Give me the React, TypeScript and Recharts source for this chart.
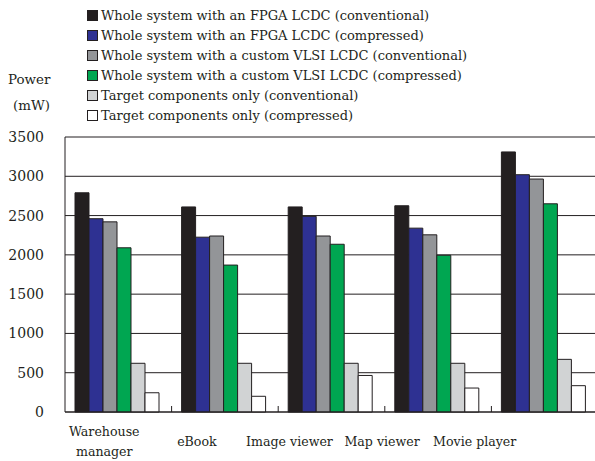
import { Bar, BarChart, CartesianGrid, Legend, XAxis, YAxis } from "recharts";

const categories = ["Warehouse manager", "eBook", "Image viewer", "Map viewer", "Movie player"];
const categoryLines = [["Warehouse", "manager"], ["eBook"], ["Image viewer"], ["Map viewer"], ["Movie player"]];

const fpgaConventional = [2790, 2610, 2610, 2625, 3310];
const fpgaCompressed = [2460, 2225, 2490, 2340, 3020];
const vlsiConventional = [2420, 2240, 2240, 2255, 2965];
const vlsiCompressed = [2090, 1870, 2135, 1995, 2650];
const targetConventional = [620, 620, 620, 620, 670];
const targetCompressed = [245, 200, 465, 305, 335];

const yTicks = [0, 500, 1000, 1500, 2000, 2500, 3000, 3500];

const series = [
  { key: "fpgaConv", name: "Whole system with an FPGA LCDC (conventional)", color: "#231f20", values: fpgaConventional },
  { key: "fpgaComp", name: "Whole system with an FPGA LCDC (compressed)", color: "#2e3192", values: fpgaCompressed },
  { key: "vlsiConv", name: "Whole system with a custom VLSI LCDC (conventional)", color: "#939598", values: vlsiConventional },
  { key: "vlsiComp", name: "Whole system with a custom VLSI LCDC (compressed)", color: "#00a651", values: vlsiCompressed },
  { key: "targetConv", name: "Target components only (conventional)", color: "#d1d3d4", values: targetConventional },
  { key: "targetComp", name: "Target components only (compressed)", color: "#ffffff", values: targetCompressed },
];

const data = categories.map((name, i) => {
  const row: Record<string, string | number> = { name };
  series.forEach((s) => (row[s.key] = s.values[i]));
  return row;
});

const FONT = '"DejaVu Serif", serif';
const INK = "#231f20";
const W = 600;
const H = 461;
const X_HEIGHT = 49;
const MARGIN = { top: 137, right: 2, bottom: 0, left: 0 };
const Y_WIDTH = 65;
const band = (W - MARGIN.left - MARGIN.right - Y_WIDTH) / categories.length;

const CategoryTick = (props: any) => {
  const { x, y, index } = props;
  const lines = categoryLines[index] || [String(props.payload?.value)];
  const tx = x - 14 * (index + 1);
  const firstY = y + 30 - (lines.length - 1) * 10;
  const bx = x + band / 2;
  return (
    <g>
      <line x1={bx} x2={bx} y1={y} y2={y - 6} stroke={INK} strokeWidth={1} />
      <text x={tx} y={firstY} textAnchor="middle" fontFamily={FONT} fontSize={12.6} fill={INK}>
        {lines.map((l, k) => (
          <tspan key={k} x={tx} dy={k === 0 ? "0.35em" : 20}>
            {l}
          </tspan>
        ))}
      </text>
    </g>
  );
};

const PowerLabel = (props: any) => {
  const vb = props.viewBox || { x: 0, y: MARGIN.top };
  return (
    <g fontFamily={FONT} fontSize={13.4} fill={INK}>
      <text x={vb.x + 8} y={vb.y - 53}>Power</text>
      <text x={vb.x + 13} y={vb.y - 27}>(mW)</text>
    </g>
  );
};

const LegendBox = () => (
  <div style={{ fontFamily: FONT, fontSize: 13, color: INK }}>
    {series.map((s) => (
      <div key={s.key} style={{ display: "flex", alignItems: "center", height: 20, whiteSpace: "nowrap" }}>
        <span
          style={{
            display: "inline-block",
            width: 9,
            height: 9,
            background: s.color,
            border: `1px solid ${INK}`,
            marginRight: 3,
          }}
        />
        {s.name}
      </div>
    ))}
  </div>
);

export default function App() {
  return (
    <div style={{ position: "absolute", left: 0, top: 0, width: 595, height: 461, overflow: "hidden", background: "#fff" }}>
      <BarChart width={W} height={H} data={data} margin={MARGIN} barCategoryGap={10} barGap={0}>
        <CartesianGrid horizontal vertical={false} stroke={INK} strokeWidth={1} />
        <XAxis
          dataKey="name"
          height={X_HEIGHT}
          axisLine={{ stroke: INK }}
          tickLine={false}
          tickSize={0}
          tickMargin={0}
          interval={0}
          tick={<CategoryTick />}
        />
        <YAxis
          width={Y_WIDTH}
          domain={[0, 3500]}
          ticks={yTicks}
          axisLine={{ stroke: INK }}
          tickLine={false}
          tickSize={6}
          tickMargin={15}
          tick={{ fontFamily: FONT, fontSize: 14, fill: INK }}
          label={<PowerLabel />}
        />
        <Legend
          layout="vertical"
          align="center"
          verticalAlign="middle"
          content={<LegendBox />}
          wrapperStyle={{ top: 5, left: 87, width: "auto" }}
        />
        {series.map((s) => (
          <Bar
            key={s.key}
            dataKey={s.key}
            name={s.name}
            fill={s.color}
            stroke={INK}
            strokeWidth={1}
            isAnimationActive={false}
          />
        ))}
      </BarChart>
    </div>
  );
}
